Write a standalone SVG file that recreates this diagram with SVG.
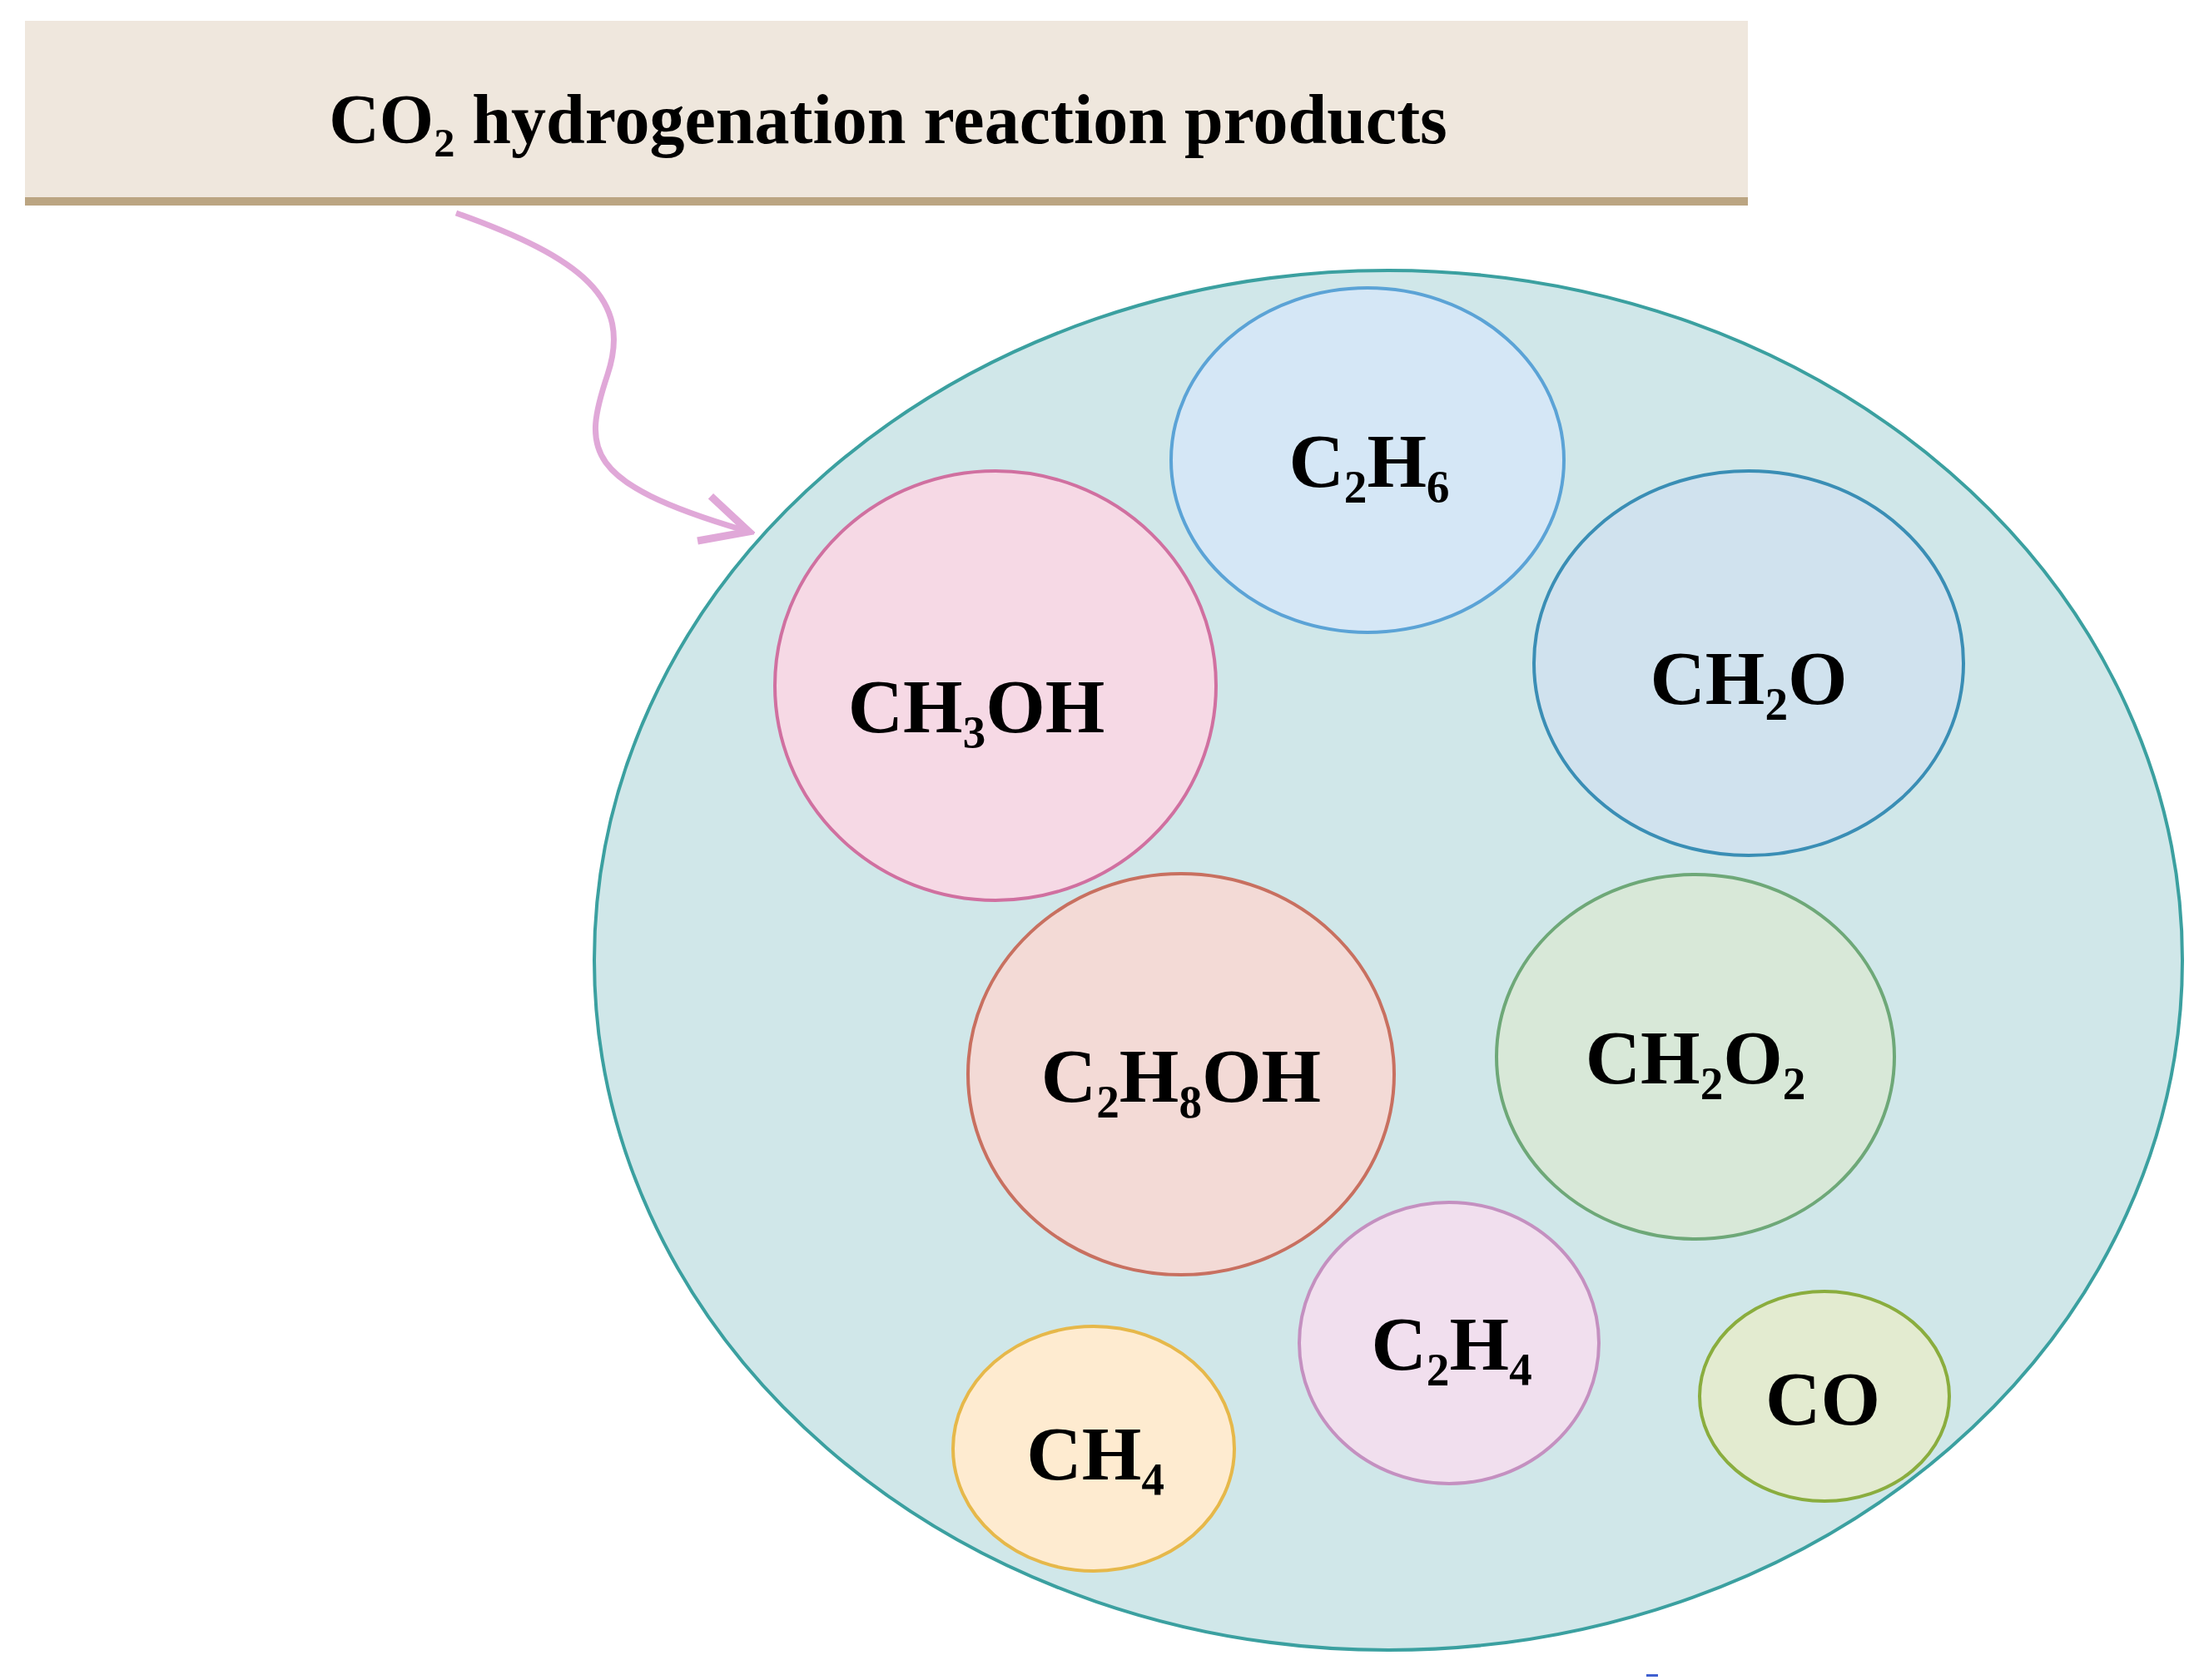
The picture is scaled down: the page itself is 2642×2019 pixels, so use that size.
<svg xmlns="http://www.w3.org/2000/svg" width="2642" height="2019" viewBox="0 0 2642 2019">
<style>
.t{font-family:"Liberation Serif","Times New Roman",serif;font-weight:bold;fill:#000;text-anchor:middle}
.n{font-size:92px}
.o{stroke-width:4}
</style>
<defs>
<marker id="ah" markerWidth="10" markerHeight="10" refX="8" refY="5" orient="auto" markerUnits="strokeWidth">
<path d="M1,1 L9,5 L1,9" fill="none" stroke="#E0A8D8" stroke-width="1.3"/>
</marker>
</defs>
<rect width="2642" height="2019" fill="#fff"/>
<g id="header">
<rect x="30" y="25" width="2070" height="216" fill="#EFE7DD"/>
<rect x="30" y="237" width="2070" height="10" fill="#BBA582"/>
<text class="t" x="1067" y="172" font-size="84">CO₂ hydrogenation reaction products</text>
</g>
<g id="connectors">
<path d="M548,256 C700,310 760,360 730,450 C700,540 700,580 893,637" fill="none" stroke="#E0A8D8" stroke-width="7" marker-end="url(#ah)"/>
</g>
<g id="products">
<ellipse cx="1668" cy="1154" rx="954" ry="829" fill="#D0E7E9" stroke="#3BA0A0" class="o"/>
</g>
<g id="c2h6"><ellipse cx="1643" cy="553" rx="236" ry="207" fill="#D5E7F6" stroke="#5BA3D6" class="o"/><text class="t n" x="1645" y="585">C₂H₆</text></g>
<g id="ch3oh"><ellipse cx="1196" cy="824" rx="265" ry="258" fill="#F6D9E5" stroke="#D070A0" class="o"/><text class="t n" x="1173" y="880">CH₃OH</text></g>
<g id="ch2o"><ellipse cx="2101" cy="797" rx="258" ry="231" fill="#D0E2EE" stroke="#3A8EB5" class="o"/><text class="t n" x="2101" y="846">CH₂O</text></g>
<g id="c2h8oh"><ellipse cx="1419" cy="1291" rx="256" ry="241" fill="#F3DAD6" stroke="#C87060" class="o"/><text class="t n" x="1419" y="1324">C₂H₈OH</text></g>
<g id="ch2o2"><ellipse cx="2037" cy="1270" rx="239" ry="219" fill="#D8E8D8" stroke="#6EA878" class="o"/><text class="t n" x="2037" y="1302">CH₂O₂</text></g>
<g id="c2h4"><ellipse cx="1741" cy="1614" rx="180" ry="169" fill="#F1DFEE" stroke="#C490C0" class="o"/><text class="t n" x="1744" y="1646">C₂H₄</text></g>
<g id="ch4"><ellipse cx="1314" cy="1741" rx="169" ry="147" fill="#FEEBD0" stroke="#E6B84A" class="o"/><text class="t n" x="1316" y="1778">CH₄</text></g>
<g id="co"><ellipse cx="2192" cy="1678" rx="150" ry="126" fill="#E3EBD0" stroke="#8AAD3E" class="o"/><text class="t n" x="2190" y="1712">CO</text></g>
<rect x="1978" y="2012" width="14" height="3" fill="#4060D0"/>
</svg>
